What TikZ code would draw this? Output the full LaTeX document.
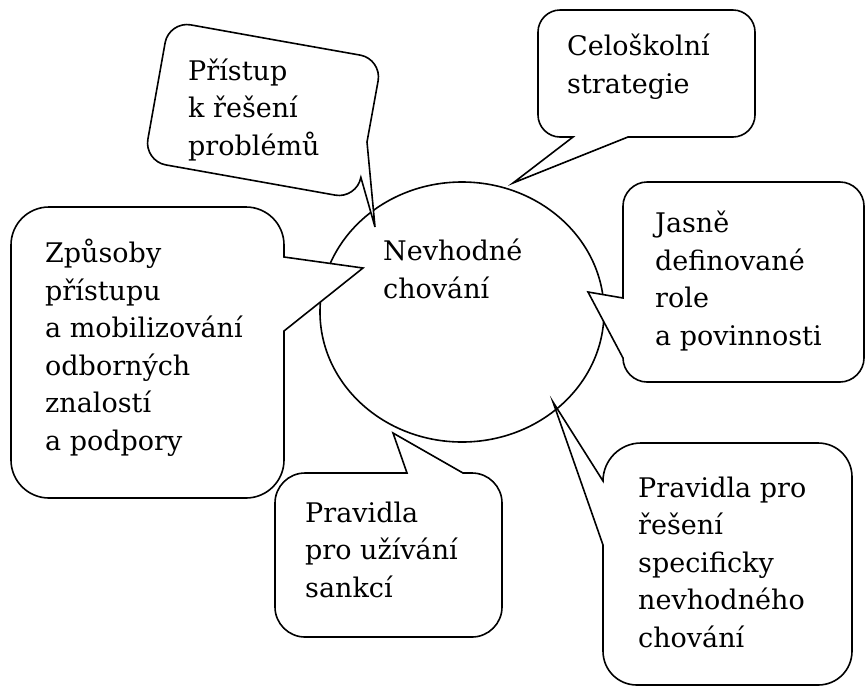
\documentclass[tikz,border=0pt]{standalone}
\usepackage{fontspec}
\setmainfont{DejaVu Serif}
\usetikzlibrary{calc,shapes.geometric}
\newcommand\rc[5]{-- ($(#1)!#4!(#2)$) .. controls ($(#1)!#5!(#2)$) and ($(#1)!#5!(#3)$) .. ($(#1)!#4!(#3)$)}
\begin{document}
\begin{tikzpicture}[x=1pt,y=-1pt,
  bubble/.style={draw=black,fill=white,line width=1.6pt,line join=miter},
  lbl/.style={anchor=base west,inner sep=0pt,align=left,font=\fontsize{27}{37.5}\selectfont}]
\useasboundingbox (0,0) rectangle (866,689);
% central ellipse
\node[draw,ellipse,line width=1.6pt,minimum width=284pt,minimum height=260pt,inner sep=0pt] (el) at (462,312) {};
% tips
\coordinate (tA) at (375,227);
\coordinate (tB) at (513,183);
\coordinate (tC) at (588,292);
\coordinate (tG) at (363,268);
\coordinate (tD) at (393,433);
\coordinate (tE) at (553,402);
% A: Pristup k reseni problemu (tilted)
\path[bubble] (275,40) \rc{382,59}{169,21}{357,199}{22pt}{10pt} -- (367,142) -- (tA)
  \rc{357,199}{382,59}{144,161}{22pt}{10pt} \rc{144,161}{357,199}{169,21}{22pt}{10pt}
  \rc{169,21}{144,161}{382,59}{22pt}{10pt} -- cycle;
% B: Celoskolni strategie
\path[bubble] (640,10) \rc{755,10}{538,10}{755,137}{22pt}{10pt} \rc{755,137}{755,10}{538,137}{22pt}{10pt}
  -- (628,137) -- (tB) -- (573,137) \rc{538,137}{755,137}{538,10}{22pt}{10pt}
  \rc{538,10}{538,137}{755,10}{22pt}{10pt} -- cycle;
% C: Jasne definovane role
\path[bubble] (740,182) \rc{864,182}{623,182}{864,382}{24pt}{11pt} \rc{864,382}{864,182}{623,382}{24pt}{11pt}
  \rc{623,382}{864,382}{623,182}{24pt}{11pt} -- (tC) -- (623,298)
  \rc{623,182}{623,382}{864,182}{24pt}{11pt} -- cycle;
% G: Zpusoby pristupu
\path[bubble] (150,207) \rc{284,207}{11,207}{284,498}{38pt}{17pt} -- (284,257) -- (tG) -- (284,331)
  \rc{284,498}{284,207}{11,498}{38pt}{17pt} \rc{11,498}{284,498}{11,207}{38pt}{17pt}
  \rc{11,207}{11,498}{284,207}{38pt}{17pt} -- cycle;
% D: Pravidla pro uzivani sankci
\path[bubble] (275,550) \rc{275,473}{275,637}{502,473}{30pt}{13.5pt} -- (407,473) -- (tD) -- (463,473)
  \rc{502,473}{275,473}{502,637}{30pt}{13.5pt} \rc{502,637}{502,473}{275,637}{30pt}{13.5pt}
  \rc{275,637}{502,637}{275,473}{30pt}{13.5pt} -- cycle;
% E: Pravidla pro reseni
\path[bubble] (720,443) \rc{852,443}{603,443}{852,685}{34pt}{15pt} \rc{852,685}{852,443}{603,685}{34pt}{15pt}
  \rc{603,685}{852,685}{603,443}{34pt}{15pt} -- (603,545) -- (tE)
  \rc{603,443}{603,685}{852,443}{38pt}{17pt} -- cycle;
% texts (anchored at the baseline of their last line)
\node[lbl] (nc) at (383,298) {Nevhodné\\chování};
\node[lbl] (na) at (188,155) {Přístup\\k řešení\\problémů};
\node[lbl] (nb) at (567,93) {Celoškolní\\strategie};
\node[lbl] (nj) at (655,345) {Jasně\\definované\\role\\a povinnosti};
\node[lbl] (nz) at (45,450) {Způsoby\\přístupu\\a mobilizování\\odborných\\znalostí\\a podpory};
\node[lbl] (nd) at (305,597) {Pravidla\\pro užívání\\sankcí};
\node[lbl] (ne) at (638,647) {Pravidla pro\\řešení\\specificky\\nevhodného\\chování};
\end{tikzpicture}
\end{document}
